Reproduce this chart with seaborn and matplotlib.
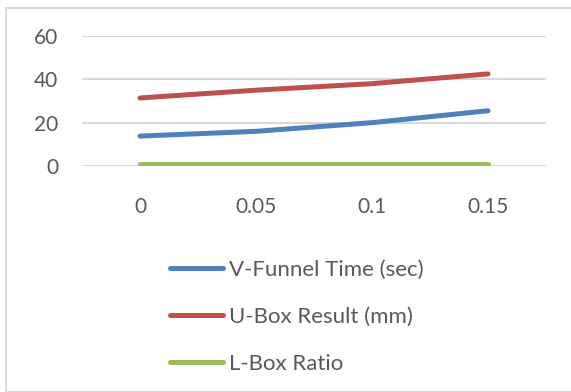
import matplotlib
matplotlib.use("Agg")
import matplotlib.pyplot as plt
import seaborn as sns
import pandas as pd
from matplotlib.patches import Rectangle
from matplotlib.lines import Line2D

categories = ["0", "0.05", "0.1", "0.15"]
v_funnel = [13.8, 16.0, 20.0, 25.5]
u_box = [31.4, 35.0, 38.0, 42.5]
l_box = [1.0, 1.0, 1.0, 1.0]
series_names = ["V-Funnel Time (sec)", "U-Box Result (mm)", "L-Box Ratio"]
y_ticks = [0, 20, 40, 60]

sns.set_theme(style="white")
plt.rcParams['font.family'] = ['Lato', 'DejaVu Sans']

rows = []
for name, vals in zip(series_names, [v_funnel, u_box, l_box]):
    for i, (c, v) in enumerate(zip(categories, vals)):
        rows.append({"pos": i, "cat": c, "value": v, "series": name})
df = pd.DataFrame(rows)

W, H = 571, 392
fig = plt.figure(figsize=(W / 100, H / 100), dpi=100)
fig.patch.set_facecolor("white")
fig.patches.append(Rectangle((6 / W, 0), 1.0, 1 - 8 / H, transform=fig.transFigure,
                             fill=False, edgecolor="#d9d9d9", linewidth=1.5, zorder=0))

ax = fig.add_axes([82 / W, 1 - 166 / H, (546 - 82) / W, (166 - 36) / H])
palette = {"V-Funnel Time (sec)": "#4f81bd", "U-Box Result (mm)": "#c0504d", "L-Box Ratio": "#9bbb59"}
sns.lineplot(data=df, x="pos", y="value", hue="series", palette=palette, ax=ax,
             linewidth=3.6, legend=False, solid_capstyle="round", zorder=3)

ax.set_xlim(-0.5, 3.5)
ax.set_ylim(0, 60)
ax.set_yticks(y_ticks)
ax.set_yticklabels([str(t) for t in y_ticks])
ax.set_xticks(range(len(categories)))
ax.set_xticklabels(categories)
ax.set_xlabel("")
ax.set_ylabel("")
for s in ax.spines.values():
    s.set_visible(False)
ax.grid(axis="y", color="#d9d9d9", linewidth=1.5)
ax.tick_params(axis="y", length=0, pad=17, labelsize=15, labelcolor="#595959")
ax.tick_params(axis="x", length=0, pad=22, labelsize=15, labelcolor="#595959")
ax.set_axisbelow(True)

handles = [Line2D([0], [0], color=palette[n], linewidth=3.6) for n in series_names]
leg = fig.legend(handles, series_names, loc="upper left",
                 bbox_to_anchor=(170 / W, 1 - 260 / H), frameon=False,
                 fontsize=16, handlelength=2.4, handletextpad=0.27,
                 labelspacing=1.22, borderpad=0, borderaxespad=0)
for t in leg.get_texts():
    t.set_color("#595959")

fig.savefig("out.png", dpi=100)
